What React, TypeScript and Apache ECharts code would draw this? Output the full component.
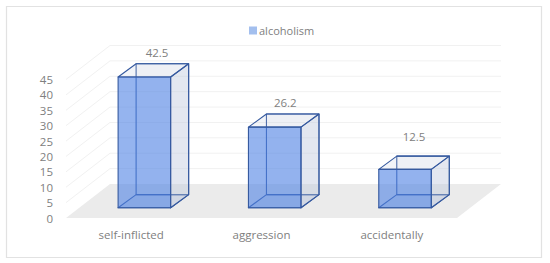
import React, { useEffect, useRef } from "react";
import * as echarts from "echarts";

const categories = ["self-inflicted", "aggression", "accidentally"];
const values = [42.5, 26.2, 12.5];
const yTicks = [0, 5, 10, 15, 20, 25, 30, 35, 40, 45];
const seriesName = "alcoholism";

const FONT = '"Open Sans", sans-serif';
const TEXT = "#808080";
const FLOOR_DX = 44;
const FLOOR_DY = -34;
const BAR_DX = 18;
const BAR_DY = -13.2;
const BAR_SHIFT = 0.3;
const BAR_FRACTION = 0.403;
const LABEL_OFFSETS = [[3.7, -11.5], [1.6, -11], [0, -20]];

export default function App() {
  const ref = useRef<HTMLDivElement>(null);
  useEffect(() => {
    const chart = echarts.init(ref.current!, undefined, { renderer: "svg" });
    chart.setOption({
      animation: false,
      backgroundColor: "#fff",
      graphic: [
        {
          type: "rect",
          z: -1,
          shape: { x: 6.5, y: 6.5, width: 535, height: 251 },
          style: { fill: "#fff", stroke: "#e2e2e2", lineWidth: 1.2 },
        },
      ],
      legend: {
        data: [seriesName],
        left: 249,
        top: 25,
        padding: 0,
        itemWidth: 8,
        itemHeight: 8,
        itemGap: 2,
        icon: "rect",
        textStyle: { color: TEXT, fontFamily: FONT, fontSize: 11, padding: [0, 0, 0, -3] },
      },
      grid: { left: 66, right: 93, top: 79.5, bottom: 45 },
      xAxis: {
        type: "category",
        data: categories,
        axisLine: { show: false },
        axisTick: { show: false },
        axisLabel: { color: TEXT, fontFamily: FONT, fontSize: 11.5, margin: 10 },
      },
      yAxis: {
        type: "value",
        min: 0,
        max: 45,
        interval: 5,
        splitLine: { show: false },
        axisLine: { show: false },
        axisTick: { show: false },
        axisLabel: { color: TEXT, fontFamily: FONT, fontSize: 11.5, margin: 13 },
      },
      series: [
        {
          type: "custom",
          name: "walls",
          z: 1,
          clip: false,
          silent: true,
          data: yTicks.map((t) => [0, t]),
          encode: { x: 0, y: 1 },
          renderItem: (params: any, api: any) => {
            const t = api.value(1);
            const band = api.size([1, 0])[0];
            const [lx, y] = api.coord([0, t]);
            const x0 = lx - band / 2;
            const x1 = api.coord([2, t])[0] + band / 2;
            if (t === 0) {
              return {
                type: "polygon",
                shape: {
                  points: [
                    [x0, y],
                    [x0 + FLOOR_DX, y + FLOOR_DY],
                    [x1 + FLOOR_DX, y + FLOOR_DY],
                    [x1, y],
                  ],
                },
                style: { fill: "#ebebeb", stroke: "none" },
              };
            }
            return {
              type: "polyline",
              shape: {
                points: [
                  [x0, y],
                  [x0 + FLOOR_DX, y + FLOOR_DY],
                  [x1 + FLOOR_DX, y + FLOOR_DY],
                ],
              },
              style: { fill: "none", stroke: "#f1f1f1", lineWidth: 1 },
            };
          },
        },
        {
          type: "custom",
          name: seriesName,
          z: 2,
          clip: false,
          itemStyle: { color: "#a3bfee" },
          data: values.map((v, i) => [i, v]),
          encode: { x: 0, y: 1 },
          renderItem: (params: any, api: any) => {
            const i = api.value(0);
            const v = api.value(1);
            const band = api.size([1, 0])[0];
            const w = band * BAR_FRACTION;
            const [cx, yTop0] = api.coord([i, v]);
            const yBase0 = api.coord([i, 0])[1];
            const x0 = cx - w / 2 + FLOOR_DX * BAR_SHIFT;
            const x1 = x0 + w;
            const yT = yTop0 + FLOOR_DY * BAR_SHIFT;
            const yB = yBase0 + FLOOR_DY * BAR_SHIFT;
            const P = (x: number, y: number, back = false) =>
              back ? [x + BAR_DX, y + BAR_DY] : [x, y];
            const stroke = "#35599f";
            const face = (points: number[][], fill: string) => ({
              type: "polygon",
              shape: { points },
              style: { fill, stroke, lineWidth: 1.1, lineJoin: "round" },
            });
            const [ox, oy] = LABEL_OFFSETS[i];
            return {
              type: "group",
              children: [
                face([P(x0, yT, true), P(x1, yT, true), P(x1, yB, true), P(x0, yB, true)], "rgba(190,200,220,0.08)"),
                face([P(x0, yB), P(x1, yB), P(x1, yB, true), P(x0, yB, true)], "rgba(68,114,196,0.08)"),
                face([P(x1, yT), P(x1, yT, true), P(x1, yB, true), P(x1, yB)], "rgba(190,200,220,0.38)"),
                face([P(x0, yT), P(x1, yT), P(x1, yT, true), P(x0, yT, true)], "rgba(190,200,220,0.2)"),
                face([P(x0, yT), P(x1, yT), P(x1, yB), P(x0, yB)], "rgba(78,130,228,0.6)"),
                {
                  type: "text",
                  style: {
                    text: String(v),
                    x: (x0 + x1) / 2 + BAR_DX / 2 + ox,
                    y: yT + BAR_DY + oy,
                    align: "center",
                    verticalAlign: "middle",
                    fill: TEXT,
                    font: `11.5px ${FONT}`,
                  },
                },
              ],
            };
          },
        },
      ],
    });
    return () => chart.dispose();
  }, []);
  return <div ref={ref} style={{ position: "fixed", left: 0, top: 0, width: 550, height: 263 }} />;
}
